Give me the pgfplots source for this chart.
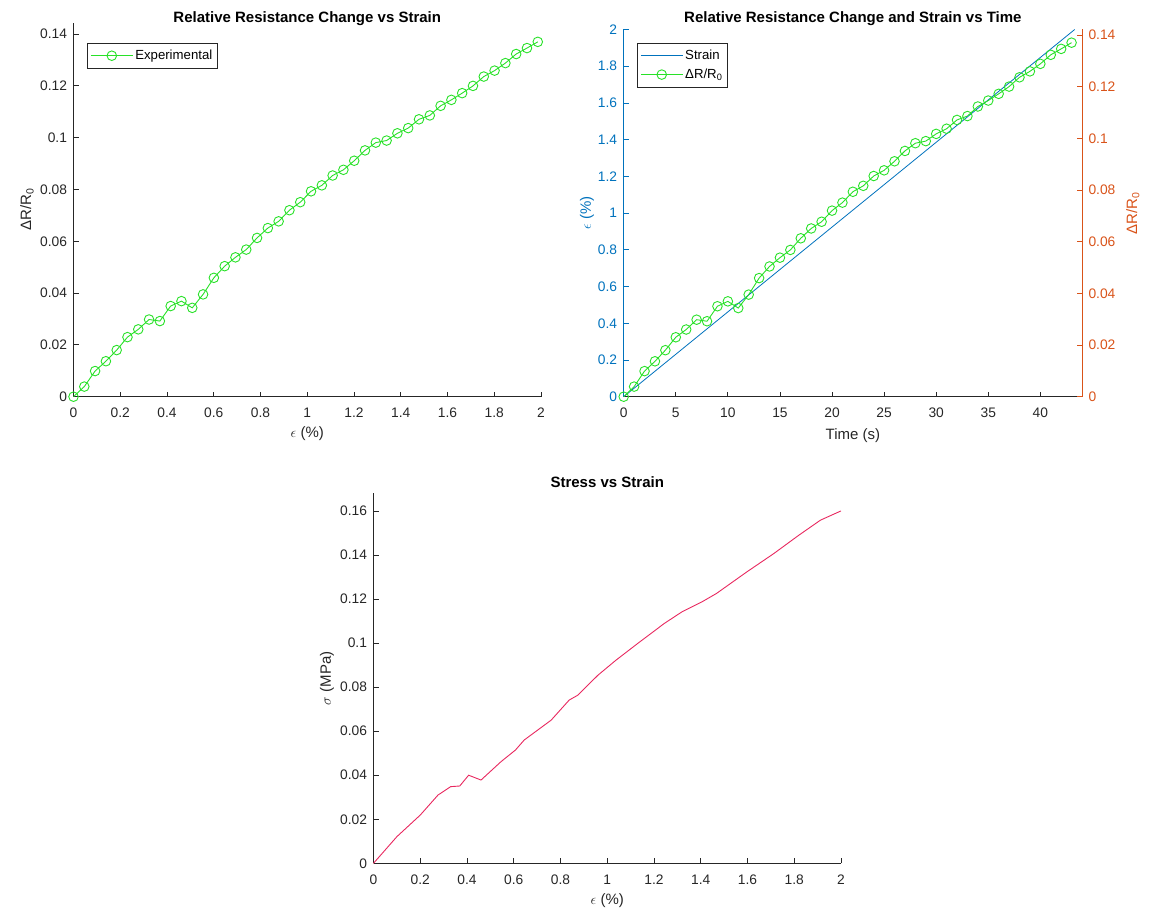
\documentclass[border=0pt]{standalone}
\usepackage{fontspec}
\setmainfont{Liberation Sans}
\usepackage{pgfplots}
\usepackage{pgfplotstable}
\pgfplotsset{compat=1.18}
\definecolor{mgray}{rgb}{0.15,0.15,0.15}
\definecolor{mblue}{rgb}{0,0.447,0.741}
\definecolor{morange}{rgb}{0.85,0.325,0.098}
\definecolor{mgreen}{RGB}{40,225,40}
\definecolor{mpink}{RGB}{232,40,95}

\pgfplotstableread{
t s r
0 0 0
1 0.0462 0.0039
2 0.0924 0.0099
3 0.1386 0.0137
4 0.1848 0.0180
5 0.2309 0.0230
6 0.2771 0.0260
7 0.3233 0.0298
8 0.3695 0.0292
9 0.4157 0.0350
10 0.4619 0.0369
11 0.5081 0.0343
12 0.5543 0.0395
13 0.6005 0.0459
14 0.6467 0.0504
15 0.6928 0.0538
16 0.7390 0.0568
17 0.7852 0.0613
18 0.8314 0.0651
19 0.8776 0.0677
20 0.9238 0.0720
21 0.9700 0.0751
22 1.0162 0.0793
23 1.0624 0.0816
24 1.1086 0.0854
25 1.1547 0.0876
26 1.2009 0.0911
27 1.2471 0.0951
28 1.2933 0.0981
29 1.3395 0.0989
30 1.3857 0.1017
31 1.4319 0.1037
32 1.4781 0.1071
33 1.5243 0.1086
34 1.5705 0.1123
35 1.6166 0.1146
36 1.6628 0.1172
37 1.7090 0.1200
38 1.7552 0.1236
39 1.8014 0.1259
40 1.8476 0.1288
41 1.8938 0.1323
42 1.9400 0.1346
43 1.9862 0.1370
}\resdata

\pgfplotstableread{
e sig
0 0
0.1 0.0121
0.2 0.0219
0.276 0.0310
0.33 0.0348
0.369 0.0351
0.407 0.0400
0.46 0.0378
0.545 0.0461
0.607 0.0514
0.645 0.0560
0.76 0.0650
0.837 0.0741
0.875 0.0764
0.96 0.0854
1.037 0.0922
1.13 0.0998
1.244 0.1089
1.32 0.1142
1.405 0.1187
1.467 0.1225
1.597 0.1323
1.712 0.1406
1.82 0.1490
1.912 0.1558
2 0.1600
}\stressdata

\pgfplotsset{
  mstyle/.style={
    scale only axis,
    axis x line*=bottom, axis y line*=left,
    axis line style={mgray, line width=0.9pt, -},
    tick align=inside, major tick length=5pt,
    every tick/.style={mgray, line width=0.8pt},
    tick label style={font=\fontsize{13.8}{16}\selectfont, text=mgray},
    label style={font=\fontsize{15}{18}\selectfont, text=mgray},
    title style={font=\fontsize{15}{18}\selectfont\bfseries},
    /pgf/number format/assume math mode=true,
    scaled ticks=false,
    yticklabel style={/pgf/number format/fixed,/pgf/number format/precision=2},
    xticklabel style={/pgf/number format/fixed, yshift=-8pt},
    clip=false,
    legend cell align=left,
    legend style={draw=mgray, line width=0.6pt, font=\fontsize{13.2}{15}\selectfont, anchor=north west, inner sep=3pt,
      nodes={inner ysep=4pt}},
  },
  glegend/.style={legend image code/.code={%
    \draw[draw=mgreen, line width=0.9pt] (0pt,0pt) -- (42pt,0pt);
    \draw[draw=mgreen, line width=0.9pt] (21pt,0pt) circle[radius=4.8pt];}},
  blegend/.style={legend image code/.code={%
    \draw[draw=mblue, line width=0.8pt] (0pt,0pt) -- (42pt,0pt);}},
}

\begin{document}
\begin{tikzpicture}
\useasboundingbox (0pt,0pt) rectangle (1151pt,913pt);

% Top-left
\begin{axis}[mstyle,
  at={(73.5pt,516.3pt)}, anchor=south west,
  width=467.5pt, height=374pt,
  xmin=0, xmax=2, ymin=0, ymax=0.1444,
  xtick={0,0.2,0.4,0.6,0.8,1,1.2,1.4,1.6,1.8,2},
  ytick={0,0.02,0.04,0.06,0.08,0.1,0.12,0.14},
  yticklabel style={xshift=-3pt},
  title={Relative Resistance Change vs Strain},
  title style={yshift=-13pt},
  xlabel={$\epsilon$ (\%)},
  ylabel={ΔR/R\textsubscript{0}},
  xlabel style={at={(axis description cs:0.5,-0.098)}, anchor=center},
  ylabel style={at={(axis description cs:-0.0995,0.5)}, anchor=center},
  legend style={at={(0.029,0.946)}},
]
\addplot[draw=mgreen, line width=0.9pt, mark=o, mark size=4.8pt, mark options={solid, draw=mgreen}, glegend] table[x=s, y=r] {\resdata};
\addlegendentry{Experimental}
\end{axis}

% Top-right, left axis
\begin{axis}[mstyle,
  at={(623.7pt,516.3pt)}, anchor=south west,
  width=458.3pt, height=367.2pt,
  xmin=0, xmax=44, ymin=0, ymax=2,
  xtick={0,5,10,15,20,25,30,35,40},
  ytick={0,0.2,0.4,0.6,0.8,1,1.2,1.4,1.6,1.8,2},
  y axis line style={mblue},
  ytick style={mblue},
  yticklabel style={text=mblue, xshift=-3pt},
  ylabel style={text=mblue, at={(axis description cs:-0.080,0.5)}, anchor=center},
  title={Relative Resistance Change and Strain vs Time},
  title style={yshift=-6pt},
  xlabel={Time (s)},
  ylabel={$\epsilon$ (\%)},
  xlabel style={at={(axis description cs:0.5,-0.107)}, anchor=center},
]
\addplot[draw=mblue, line width=0.8pt] coordinates {(0,0) (43.3,2)};
\end{axis}

% Top-right, right axis
\begin{axis}[mstyle,
  at={(623.7pt,516.3pt)}, anchor=south west,
  width=458.3pt, height=367.2pt,
  xmin=0, xmax=44, ymin=0, ymax=0.1421,
  hide x axis,
  axis y line*=right,
  ytick={0,0.02,0.04,0.06,0.08,0.1,0.12,0.14},
  y axis line style={morange},
  ytick style={morange},
  yticklabel style={text=morange, xshift=3pt},
  ylabel style={text=morange, at={(axis description cs:1.111,0.5)}, anchor=center},
  ylabel={ΔR/R\textsubscript{0}},
  legend style={at={(0.029,0.964)}},
]
\addlegendimage{blegend}
\addlegendentry{Strain}
\addplot[draw=mgreen, line width=0.9pt, mark=o, mark size=4.8pt, mark options={solid, draw=mgreen}, glegend] table[x=t, y=r] {\resdata};
\addlegendentry{ΔR/R\textsubscript{0}}
\end{axis}

% Bottom
\begin{axis}[mstyle,
  at={(373.5pt,49.7pt)}, anchor=south west,
  width=467.5pt, height=370pt,
  xmin=0, xmax=2, ymin=0, ymax=0.168,
  xtick={0,0.2,0.4,0.6,0.8,1,1.2,1.4,1.6,1.8,2},
  ytick={0,0.02,0.04,0.06,0.08,0.1,0.12,0.14,0.16},
  yticklabel style={xshift=-3pt},
  title={Stress vs Strain},
  title style={yshift=-4pt},
  xlabel={$\epsilon$ (\%)},
  ylabel={$\sigma$ (MPa)},
  xlabel style={at={(axis description cs:0.5,-0.1)}, anchor=center},
  ylabel style={at={(axis description cs:-0.0995,0.5)}, anchor=center},
]
\addplot[draw=mpink, line width=0.9pt] table[x=e, y=sig] {\stressdata};
\end{axis}
\end{tikzpicture}
\end{document}
